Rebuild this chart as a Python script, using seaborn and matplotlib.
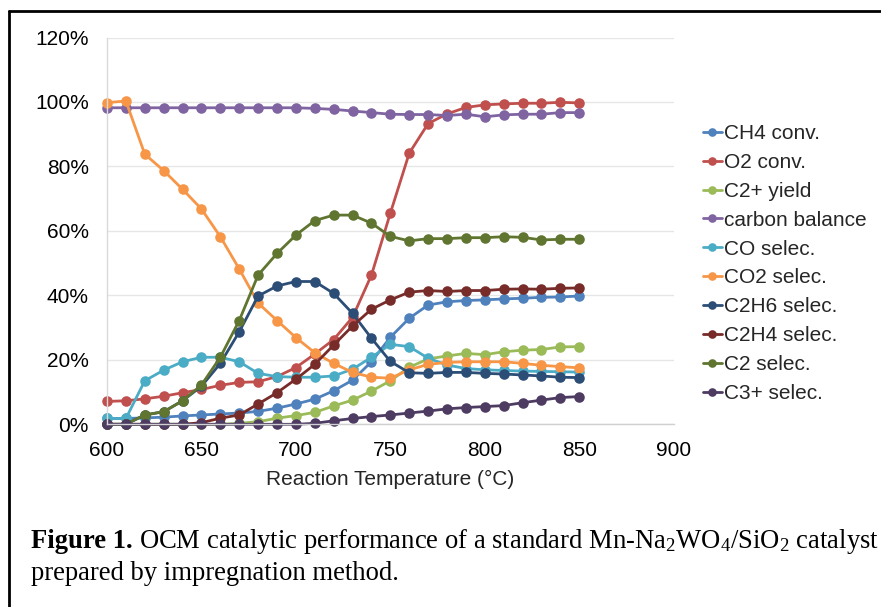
"""
OCM catalytic performance — Mn-Na2WO4/SiO2 (impregnation)
Recriação da figura 1 com seaborn.
"""

import matplotlib
matplotlib.use("Agg")
import matplotlib.pyplot as plt
import matplotlib.ticker as mticker
from matplotlib.lines import Line2D
import pandas as pd
import seaborn as sns

# ---------------------------------------------------------------------------
# Dados (em %)
# ---------------------------------------------------------------------------
temps = [600, 610, 620, 630, 640, 650, 660, 670, 680, 690, 700, 710, 720,
         730, 740, 750, 760, 770, 780, 790, 800, 810, 820, 830, 840, 850]

ch4_conv = [1.8, 1.8, 2.0, 2.2, 2.6, 2.9, 3.2, 3.5, 4.0, 5.0, 6.3, 7.8, 10.4,
            13.7, 19.4, 27.0, 32.9, 37.0, 38.0, 38.4, 38.6, 38.9, 39.1, 39.4, 39.5, 39.8]
o2_conv = [7.1, 7.3, 7.9, 8.7, 9.8, 10.8, 12.1, 13.0, 13.2, 14.8, 17.6, 21.8, 26.3,
           33.2, 46.3, 65.5, 84.1, 93.3, 96.3, 98.3, 99.1, 99.4, 99.6, 99.6, 99.9, 99.7]
c2_yield = [0.0, 0.0, 0.0, 0.0, 0.0, 0.0, 0.0, 0.3, 0.8, 1.9, 2.7, 3.7, 5.7,
            7.5, 10.3, 13.5, 17.7, 20.3, 21.2, 22.0, 21.6, 22.5, 23.0, 23.2, 24.0, 24.1]
carbon_bal = [98.2, 98.2, 98.2, 98.2, 98.2, 98.2, 98.2, 98.2, 98.2, 98.2, 98.2, 98.0, 97.7,
              97.2, 96.7, 96.2, 96.1, 96.1, 95.8, 96.2, 95.4, 96.0, 96.2, 96.2, 96.7, 96.7]
co_sel = [1.8, 1.8, 13.5, 16.8, 19.4, 20.8, 20.8, 19.4, 15.8, 14.8, 14.6, 14.6, 15.0,
          17.1, 20.8, 24.8, 24.1, 20.5, 18.4, 17.3, 16.9, 16.7, 16.5, 16.4, 16.3, 16.2]
co2_sel = [99.8, 100.3, 83.8, 78.7, 72.9, 66.8, 58.2, 48.2, 37.6, 32.2, 26.9, 22.2, 18.9,
           16.1, 14.6, 14.3, 16.9, 18.6, 19.2, 19.4, 19.4, 19.4, 18.9, 18.3, 17.9, 17.5]
c2h6_sel = [0.0, 0.0, 2.9, 3.9, 7.3, 11.8, 18.9, 28.7, 39.8, 42.9, 44.3, 44.3, 40.6,
            34.4, 26.7, 19.5, 16.0, 15.8, 16.1, 16.1, 15.8, 15.6, 15.3, 15.0, 14.6, 14.5]
c2h4_sel = [0.0, 0.0, 0.0, 0.0, 0.0, 0.5, 1.9, 2.9, 6.3, 9.8, 14.0, 18.6, 24.6,
            30.5, 35.7, 38.6, 41.0, 41.5, 41.2, 41.5, 41.5, 41.9, 42.0, 41.9, 42.2, 42.3]
c2_sel = [0.0, 0.0, 2.9, 3.9, 7.3, 12.2, 20.8, 32.2, 46.3, 53.0, 58.7, 63.2, 64.9,
          64.9, 62.4, 58.3, 56.9, 57.6, 57.6, 57.9, 57.9, 58.2, 58.0, 57.2, 57.4, 57.4]
c3_sel = [0.0, 0.0, 0.0, 0.0, 0.0, 0.0, 0.0, 0.0, 0.0, 0.0, 0.0, 0.3, 1.1,
          1.8, 2.4, 2.9, 3.5, 4.1, 4.8, 5.2, 5.5, 5.8, 6.7, 7.5, 8.3, 8.6]

series_names = ["CH4 conv.", "O2 conv.", "C2+ yield", "carbon balance", "CO selec.",
                "CO2 selec.", "C2H6 selec.", "C2H4 selec.", "C2 selec.", "C3+ selec."]
series_values = [ch4_conv, o2_conv, c2_yield, carbon_bal, co_sel,
                 co2_sel, c2h6_sel, c2h4_sel, c2_sel, c3_sel]

# Paleta estilo Excel 2010
COLORS = ["#4F81BD", "#C0504D", "#9BBB59", "#8064A2", "#4BACC6",
          "#F79646", "#2C4D75", "#772C2A", "#5F7530", "#4D3B62"]

# ---------------------------------------------------------------------------
# Estilo
# ---------------------------------------------------------------------------
sns.set_style("white")
plt.rcParams["font.family"] = ["Liberation Sans", "DejaVu Sans"]
plt.rcParams["mathtext.fontset"] = "custom"
plt.rcParams["mathtext.rm"] = "Liberation Serif"
plt.rcParams["mathtext.bf"] = "Liberation Serif:bold"
plt.rcParams["mathtext.it"] = "Liberation Serif:italic"
plt.rcParams["mathtext.default"] = "regular"

FS = 15

df = pd.DataFrame({"temp": temps})
for name, vals in zip(series_names, series_values):
    df[name] = vals
long_df = df.melt(id_vars="temp", var_name="series", value_name="value")

# ---------------------------------------------------------------------------
# Figura
# ---------------------------------------------------------------------------
W, H = 881, 607
fig = plt.figure(figsize=(W / 100, H / 100), dpi=100)
ax = fig.add_axes([107 / W, 1 - 424.3 / H, (673.7 - 107) / W, (424.3 - 37.5) / H])

sns.lineplot(
    data=long_df, x="temp", y="value", hue="series", hue_order=series_names,
    palette=COLORS, marker="o", markersize=7.6, markeredgewidth=0,
    linewidth=2.0, legend=False, ax=ax,
)
for line in ax.get_lines():
    line.set_clip_on(False)

ax.set_xlim(600, 900)
ax.set_ylim(0, 120)
ax.set_xticks(range(600, 901, 50))
ax.set_yticks(range(0, 121, 20))
ax.yaxis.set_major_formatter(mticker.PercentFormatter(xmax=100, decimals=0))
ax.grid(axis="y", color="#E6E6E6", linewidth=1.0)
ax.grid(axis="x", visible=False)
ax.set_axisbelow(True)

for side in ["top", "right"]:
    ax.spines[side].set_visible(False)
ax.spines["left"].set_color("#D9D9D9")
ax.spines["bottom"].set_color("#D0D0D0")
ax.spines["left"].set_linewidth(1.0)
ax.spines["bottom"].set_linewidth(1.0)

ax.tick_params(axis="both", length=0, labelsize=FS, colors="black")
ax.tick_params(axis="x", pad=12)
ax.tick_params(axis="y", pad=13)
ax.set_xlabel("Reaction Temperature (°C)", fontsize=FS, labelpad=7.5)
ax.set_ylabel("")

# Legenda
handles = [Line2D([0], [0], color=c, linewidth=2.0, marker="o", markersize=6.2,
                  markeredgewidth=0) for c in COLORS]
ax.legend(handles, series_names, loc="upper left",
          bbox_to_anchor=(703 / W, 1 - 124 / H), bbox_transform=fig.transFigure,
          frameon=False, fontsize=FS, handlelength=0.9, handletextpad=0.12,
          labelspacing=0.475, borderpad=0, borderaxespad=0)

# Moldura (topo e esquerda)
fig.add_artist(Line2D([9 / W, 1], [1 - 11 / H, 1 - 11 / H], color="black",
                      linewidth=2, transform=fig.transFigure))
fig.add_artist(Line2D([9 / W, 9 / W], [0, 1 - 11 / H], color="black",
                      linewidth=2, transform=fig.transFigure))

# Legenda da figura: "Figure 1." em negrito e o resto logo a seguir
cap_kw = dict(family=["Liberation Serif", "DejaVu Serif"], fontsize=19.2,
              color="black", va="baseline", ha="left")
bold = fig.text(31 / W, 1 - 548 / H, "Figure 1.", fontweight="bold", **cap_kw)
renderer = fig.canvas.get_renderer()
bb = bold.get_window_extent(renderer=renderer)
x_rest = (bb.x1 + 6) / W
fig.text(x_rest, 1 - 548 / H,
         "OCM catalytic performance of a standard "
         "Mn-Na$_2$WO$_4$/SiO$_2$ catalyst", **cap_kw)
fig.text(31 / W, 1 - 580 / H, "prepared by impregnation method.", **cap_kw)

fig.savefig("out.png", dpi=100)
plt.close(fig)
